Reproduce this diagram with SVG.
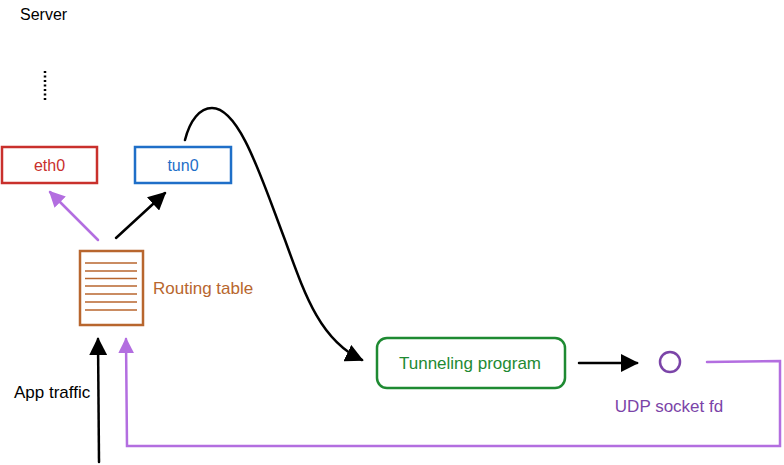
<svg xmlns="http://www.w3.org/2000/svg" width="784" height="465" viewBox="0 0 784 465">
<style>
text{font-family:"Liberation Sans",Arial,sans-serif;font-size:16px}
.big{font-size:17px}
.blk{fill:none;stroke:#000;stroke-width:2.5;stroke-linecap:round}
.pur{fill:none;stroke:#b36ee0;stroke-width:2.5;stroke-linecap:round}
.line{stroke:#b8662e;stroke-width:1.5}
</style>
<defs>
<marker id="abk" viewBox="0 0 10 10" refX="9" refY="5" markerWidth="18" markerHeight="18" markerUnits="userSpaceOnUse" orient="auto"><path d="M0,0L10,5L0,10z" fill="#000"/></marker>
<marker id="apu" viewBox="0 0 10 10" refX="9" refY="5" markerWidth="16" markerHeight="16" markerUnits="userSpaceOnUse" orient="auto"><path d="M0,0L10,5L0,10z" fill="#b36ee0"/></marker>
</defs>
<rect width="784" height="465" fill="#fff"/>
<g id="server">
<text x="20" y="20" fill="#000">Server</text>
<line x1="45" y1="71" x2="45" y2="101" stroke="#000" stroke-width="2.5" stroke-dasharray="2,2.5"/>
</g>
<g id="eth0">
<rect x="2" y="147" width="95" height="36" fill="#fff" stroke="#c9302c" stroke-width="2.5"/>
<text x="49.5" y="171" text-anchor="middle" fill="#c9302c">eth0</text>
</g>
<g id="tun0">
<rect x="135" y="147" width="96" height="36" fill="#fff" stroke="#1f6fc8" stroke-width="2.5"/>
<text x="183" y="171" text-anchor="middle" fill="#1f6fc8">tun0</text>
</g>
<g id="routing">
<rect x="80" y="251" width="63" height="74" fill="#fff" stroke="#b8662e" stroke-width="2.5"/>
<line class="line" x1="85" y1="263" x2="137" y2="263"/>
<line class="line" x1="85" y1="271" x2="137" y2="271"/>
<line class="line" x1="85" y1="278.5" x2="137" y2="278.5"/>
<line class="line" x1="85" y1="286" x2="137" y2="286"/>
<line class="line" x1="85" y1="294" x2="137" y2="294"/>
<line class="line" x1="85" y1="302" x2="137" y2="302"/>
<line class="line" x1="85" y1="310" x2="137" y2="310"/>
<text class="big" x="153" y="294" fill="#b8662e">Routing table</text>
</g>
<g id="tunneling">
<rect x="377" y="338" width="188" height="50" rx="10" fill="#fff" stroke="#1e8a32" stroke-width="2.5"/>
<text class="big" x="470" y="369" text-anchor="middle" fill="#1e8a32">Tunneling program</text>
</g>
<g id="udp">
<circle cx="670" cy="362" r="10" fill="#fff" stroke="#7b44a8" stroke-width="2.5"/>
<text class="big" x="669" y="412" text-anchor="middle" fill="#7b44a8">UDP socket fd</text>
</g>
<g id="apptraffic">
<text class="big" x="14" y="398" fill="#000">App traffic</text>
</g>
<g id="connectors">
<path class="pur" d="M98,240L50,192" marker-end="url(#apu)"/>
<path class="blk" d="M116,238L165,193" marker-end="url(#abk)"/>
<path class="blk" d="M185,140C190,120 200,108 212,108C240,108 262,180 285,240C305,295 320,340 362,360" marker-end="url(#abk)"/>
<path class="blk" d="M579,363L637,363" marker-end="url(#abk)"/>
<path class="pur" d="M707,362L780,361L780,446L127,446L126,339" marker-end="url(#apu)"/>
<path class="blk" d="M99,462L98,339" marker-end="url(#abk)"/>
</g>
</svg>
